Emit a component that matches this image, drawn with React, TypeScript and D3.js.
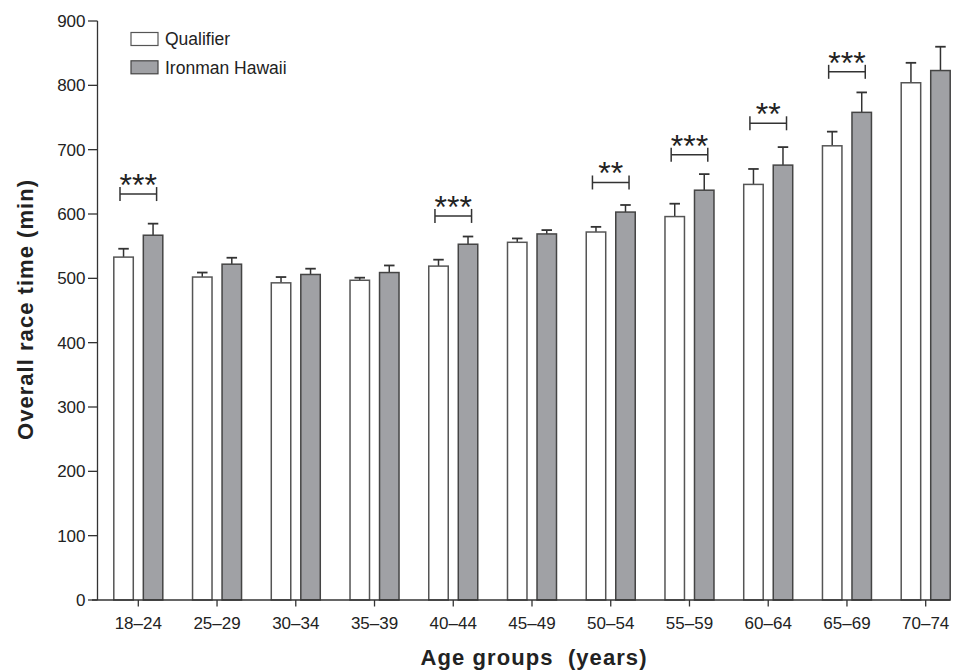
import React from "react";
import * as d3 from "d3";

const groups = ["18–24", "25–29", "30–34", "35–39", "40–44", "45–49", "50–54", "55–59", "60–64", "65–69", "70–74"];
const qualifier = [533, 502, 493, 497, 519, 556, 572, 596, 646, 706, 804];
const qualifierSd = [13, 7, 9, 4, 10, 6, 8, 20, 24, 22, 31];
const hawaii = [567, 522, 506, 509, 553, 569, 603, 637, 676, 758, 823];
const hawaiiSd = [18, 10, 9, 11, 12, 6, 11, 25, 28, 31, 37];
const yTicks = [0, 100, 200, 300, 400, 500, 600, 700, 800, 900];
const signif = [
  { group: "18–24", label: "***", level: 631 },
  { group: "40–44", label: "***", level: 597 },
  { group: "50–54", label: "**", level: 649 },
  { group: "55–59", label: "***", level: 692 },
  { group: "60–64", label: "**", level: 741 },
  { group: "65–69", label: "***", level: 821 },
];
const series = [
  { key: "Qualifier", values: qualifier, sd: qualifierSd, fill: "#ffffff", stroke: "#555" },
  { key: "Ironman Hawaii", values: hawaii, sd: hawaiiSd, fill: "#a0a1a5", stroke: "#444" },
];

const W = 956;
const H = 671;
const font = "'Liberation Sans', Arial, sans-serif";

export default function App() {
  const y = d3.scaleLinear().domain([0, 900]).range([600, 21]);
  const x = d3.scalePoint<string>().domain(groups).range([138.3, 925.7]);
  const inner = d3.scaleBand<string>().domain(series.map((s) => s.key)).range([-24.5, 24.5]).paddingInner(0.34);
  const bw = inner.bandwidth();
  const capW = 10.5;

  return (
    <svg width={W} height={H} style={{ position: "absolute", left: 0, top: 0, fontFamily: font }}>
      <rect width={W} height={H} fill="#fff" />
      {/* bars */}
      {series.map((s) => (
        <g key={s.key}>
          {groups.map((g, i) => {
            const bx = x(g)! + inner(s.key)!;
            const cx = bx + bw / 2;
            return (
              <g key={g}>
                <line x1={cx} x2={cx} y1={y(s.values[i])} y2={y(s.values[i] + s.sd[i])} stroke="#333" strokeWidth={1.5} />
                <line x1={cx - capW / 2} x2={cx + capW / 2} y1={y(s.values[i] + s.sd[i])} y2={y(s.values[i] + s.sd[i])} stroke="#333" strokeWidth={1.8} />
                <rect x={bx} y={y(s.values[i])} width={bw} height={y(0) - y(s.values[i])} fill={s.fill} stroke={s.stroke} strokeWidth={1.5} />
              </g>
            );
          })}
        </g>
      ))}
      {/* significance brackets */}
      {signif.map((d) => {
        const c = x(d.group)!;
        const by = y(d.level);
        return (
          <g key={d.group} stroke="#333" strokeWidth={1.5}>
            <line x1={c - 18.3} x2={c + 18.3} y1={by} y2={by} />
            <line x1={c - 18.3} x2={c - 18.3} y1={by - 7} y2={by + 7} />
            <line x1={c + 18.3} x2={c + 18.3} y1={by - 7} y2={by + 7} />
            <text x={c} y={by + 2} textAnchor="middle" fontSize={32} fill="#222" stroke="none">
              {d.label}
            </text>
          </g>
        );
      })}
      {/* y axis */}
      <line x1={97.5} x2={97.5} y1={y(900)} y2={y(0)} stroke="#333" strokeWidth={1.3} />
      {yTicks.map((t) => (
        <g key={t}>
          <line x1={88} x2={97.5} y1={y(t)} y2={y(t)} stroke="#333" strokeWidth={1.3} />
          <text x={85.5} y={y(t)} dy="0.36em" textAnchor="end" fontSize={17} fill="#222">
            {t}
          </text>
        </g>
      ))}
      {/* x axis */}
      <line x1={92} x2={950} y1={y(0)} y2={y(0)} stroke="#333" strokeWidth={1.3} />
      {groups.map((g) => (
        <g key={g}>
          <line x1={x(g)} x2={x(g)} y1={y(0)} y2={y(0) + 6.5} stroke="#333" strokeWidth={1.3} />
          <text x={x(g)} y={628.5} textAnchor="middle" fontSize={17} fill="#222">
            {g}
          </text>
        </g>
      ))}
      <text x={533.5} y={665} textAnchor="middle" fontSize={22} fontWeight="bold" fill="#222" textLength={226} style={{ whiteSpace: "pre" }}>
        {"Age groups  (years)"}
      </text>
      <text transform="translate(33,310) rotate(-90)" textAnchor="middle" fontSize={22} fontWeight="bold" fill="#222" textLength={260}>
        Overall race time (min)
      </text>
      {/* legend */}
      {series.map((s, i) => (
        <g key={s.key} transform={`translate(131,${32.5 + i * 28.3})`}>
          <rect width={27} height={13} fill={s.fill} stroke={s.stroke} strokeWidth={1.2} />
          <text x={34} y={6.5} dy="0.36em" fontSize={17.5} fill="#222">
            {s.key}
          </text>
        </g>
      ))}
    </svg>
  );
}
